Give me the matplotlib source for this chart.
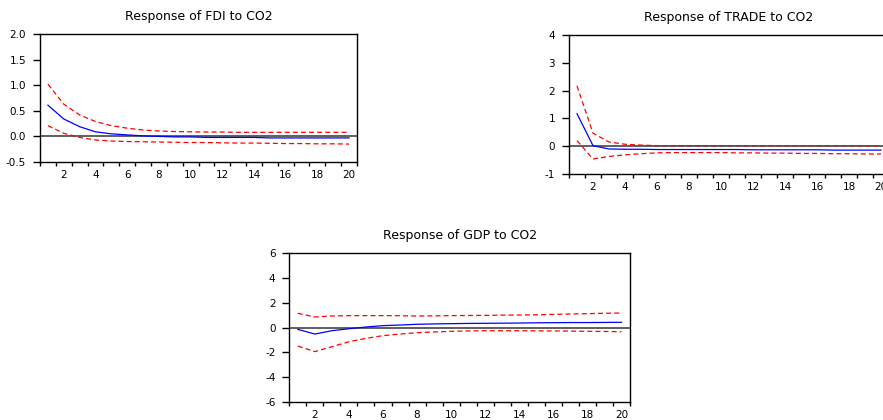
import matplotlib
matplotlib.use('Agg')
import matplotlib.pyplot as plt
import numpy as np

plt.rcParams['font.family'] = ['DejaVu Sans']

periods = np.arange(1, 21)

fdi_resp = [0.61, 0.34, 0.19, 0.09, 0.05, 0.03, 0.01, 0.0, -0.01, -0.01,
            -0.02, -0.02, -0.02, -0.02, -0.03, -0.03, -0.03, -0.03, -0.03, -0.03]
fdi_upper = [1.02, 0.63, 0.42, 0.29, 0.21, 0.16, 0.125, 0.105, 0.095, 0.09,
             0.085, 0.085, 0.08, 0.08, 0.08, 0.08, 0.08, 0.08, 0.08, 0.08]
fdi_lower = [0.21, 0.06, -0.02, -0.07, -0.09, -0.10, -0.105, -0.11, -0.115, -0.12,
             -0.12, -0.125, -0.13, -0.13, -0.135, -0.14, -0.14, -0.145, -0.145, -0.15]

trade_resp = [1.17, 0.02, -0.10, -0.11, -0.11, -0.12, -0.12, -0.12, -0.12, -0.12,
              -0.12, -0.13, -0.13, -0.13, -0.13, -0.13, -0.14, -0.14, -0.14, -0.14]
trade_upper = [2.17, 0.47, 0.15, 0.07, 0.04, 0.02, 0.02, 0.02, 0.02, 0.02,
               0.02, 0.02, 0.02, 0.02, 0.02, 0.02, 0.02, 0.02, 0.02, 0.02]
trade_lower = [0.20, -0.46, -0.37, -0.31, -0.27, -0.24, -0.23, -0.23, -0.23, -0.23,
               -0.24, -0.24, -0.25, -0.25, -0.26, -0.26, -0.27, -0.27, -0.28, -0.28]

gdp_resp = [-0.15, -0.53, -0.26, -0.10, 0.04, 0.15, 0.20, 0.26, 0.29, 0.31,
            0.33, 0.34, 0.35, 0.36, 0.38, 0.39, 0.40, 0.40, 0.41, 0.42]
gdp_upper = [1.15, 0.85, 0.93, 0.96, 0.96, 0.96, 0.95, 0.93, 0.94, 0.96,
             0.97, 0.98, 1.0, 1.01, 1.03, 1.06, 1.09, 1.12, 1.15, 1.17]
gdp_lower = [-1.5, -1.95, -1.55, -1.15, -0.88, -0.66, -0.53, -0.42, -0.36, -0.31,
             -0.28, -0.26, -0.26, -0.26, -0.27, -0.28, -0.29, -0.31, -0.32, -0.34]

panels = [
    ("Response of FDI to CO2", fdi_resp, fdi_upper, fdi_lower,
     [-0.5, 2.0], [-0.5, 0.0, 0.5, 1.0, 1.5, 2.0], ["-0.5", "0.0", "0.5", "1.0", "1.5", "2.0"],
     [40/883, 1-162/420, 317/883, 128/420]),
    ("Response of TRADE to CO2", trade_resp, trade_upper, trade_lower,
     [-1, 4], [-1, 0, 1, 2, 3, 4], ["-1", "0", "1", "2", "3", "4"],
     [569/883, 1-174/420, 320/883, 139/420]),
    ("Response of GDP to CO2", gdp_resp, gdp_upper, gdp_lower,
     [-6, 6], [-6, -4, -2, 0, 2, 4, 6], ["-6", "-4", "-2", "0", "2", "4", "6"],
     [289.3/883, 1-401.7/420, 340.7/883, 148.4/420]),
]

fig = plt.figure(figsize=(8.83, 4.2), dpi=100)

for title, resp, upper, lower, ylim, yticks, ylabels, pos in panels:
    ax = fig.add_axes(pos)
    ax.axhline(0, color='#444444', lw=1.2, zorder=1)
    ax.plot(periods, upper, color='red', lw=0.9, ls=(0, (4, 2.5)), zorder=2)
    ax.plot(periods, lower, color='red', lw=0.9, ls=(0, (4, 2.5)), zorder=2)
    ax.plot(periods, resp, color='blue', lw=0.9, zorder=3)
    ax.set_xlim(0.5, 20.5)
    ax.set_ylim(ylim)
    ax.set_yticks(yticks)
    ax.set_yticklabels(ylabels, fontsize=7.5)
    ax.set_xticks(np.arange(2, 21, 2))
    ax.set_xticklabels([str(v) for v in range(2, 21, 2)], fontsize=7.5)
    ax.set_xticks(np.arange(0.5, 21, 1), minor=True)
    ax.tick_params(axis='x', which='major', length=0, pad=6)
    ax.tick_params(axis='x', which='minor', length=3, width=1, direction='out')
    ax.tick_params(axis='y', length=5, width=1, direction='out', pad=5)
    for sp in ax.spines.values():
        sp.set_color('black')
        sp.set_linewidth(1)
    ax.set_title(title, fontsize=9, pad=10)

fig.savefig('out.png', dpi=100)
